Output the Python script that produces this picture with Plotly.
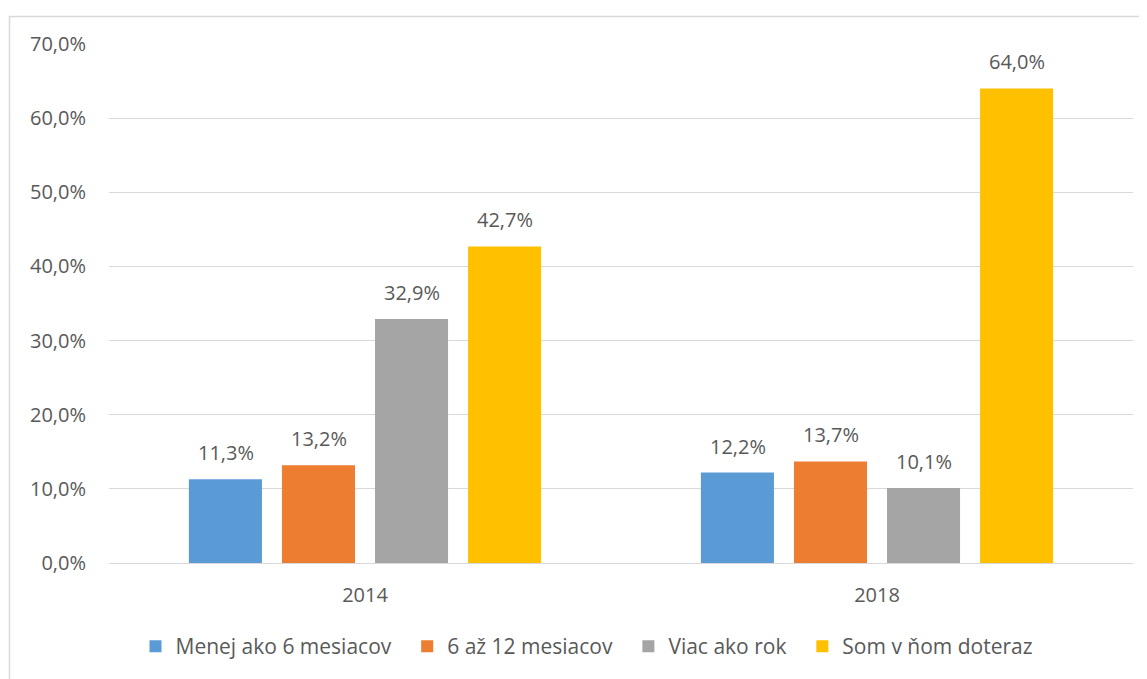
import plotly.graph_objects as go

years = ["2014", "2018"]
series_names = ["Menej ako 6 mesiacov", "6 až 12 mesiacov", "Viac ako rok", "Som v ňom doteraz"]
menej_6 = [11.3, 12.2]
od_6_do_12 = [13.2, 13.7]
viac_ako_rok = [32.9, 10.1]
doteraz = [42.7, 64.0]
colors = ["#5B9BD5", "#ED7D31", "#A5A5A5", "#FFC000"]
y_ticks = [0, 10, 20, 30, 40, 50, 60, 70]
y_tick_text = [f"{v:.1f}%".replace(".", ",") for v in y_ticks]

font_family = "Open Sans, Noto Sans, sans-serif"
text_color = "#595959"
fs = 20

all_series = [menej_6, od_6_do_12, viac_ako_rok, doteraz]

fig = go.Figure()
for i, (name, vals, col) in enumerate(zip(series_names, all_series, colors)):
    pad = "\u00a0" * 2 if i < len(series_names) - 1 else ""
    fig.add_trace(go.Bar(
        x=years, y=vals, name=name + pad,
        marker=dict(color=col, line=dict(width=0)),
        hovertemplate=name + ": %{y:.1f}%<extra></extra>",
    ))

W, H = 1139, 671
L, T, B = 101, 36, 114
plot_h = H - T - B
plot_w = 1024
bar_pitch = 93

annotations = []
for i, vals in enumerate(all_series):
    for j, v in enumerate(vals):
        annotations.append(dict(
            x=j, y=v, xref="x", yref="y",
            text=f"{v:.1f}%".replace(".", ","),
            showarrow=False, yanchor="bottom", xanchor="center",
            xshift=(i - 1.5) * bar_pitch, yshift=11,
            font=dict(family=font_family, size=fs, color=text_color),
        ))

fig.update_layout(
    width=W, height=H,
    margin=dict(l=L, r=W - L - plot_w, t=T, b=B),
    paper_bgcolor="white", plot_bgcolor="white",
    barmode="group", bargap=0.273, bargroupgap=0.215,
    font=dict(family=font_family, size=fs, color=text_color),
    showlegend=True,
    legend=dict(orientation="h", x=0.4668, xanchor="center", y=-0.161, yanchor="middle",
                font=dict(family=font_family, size=21, color=text_color),
                traceorder="normal", itemwidth=30),
    xaxis=dict(type="category", range=[-0.5, 1.5], autorange=False,
               showline=True, linecolor="#d9d9d9", linewidth=1, ticks="",
               ticklabelstandoff=14,
               tickfont=dict(size=fs, color=text_color), fixedrange=True),
    yaxis=dict(range=[0, 70], autorange=False, tickvals=y_ticks, ticktext=y_tick_text,
               showgrid=True, gridcolor="#d9d9d9", gridwidth=1, zeroline=False,
               showline=False, ticks="", ticklabelstandoff=22,
               tickfont=dict(size=fs, color=text_color)),
    annotations=annotations,
    shapes=[dict(type="rect", xref="paper", yref="paper",
                 x0=(1.5 - L) / plot_w, x1=1.2, y0=-0.5, y1=(T + plot_h - 8.5) / plot_h,
                 line=dict(color="#d9d9d9", width=1.5), fillcolor="rgba(0,0,0,0)", layer="below")],
)

fig.write_html("out.html")
